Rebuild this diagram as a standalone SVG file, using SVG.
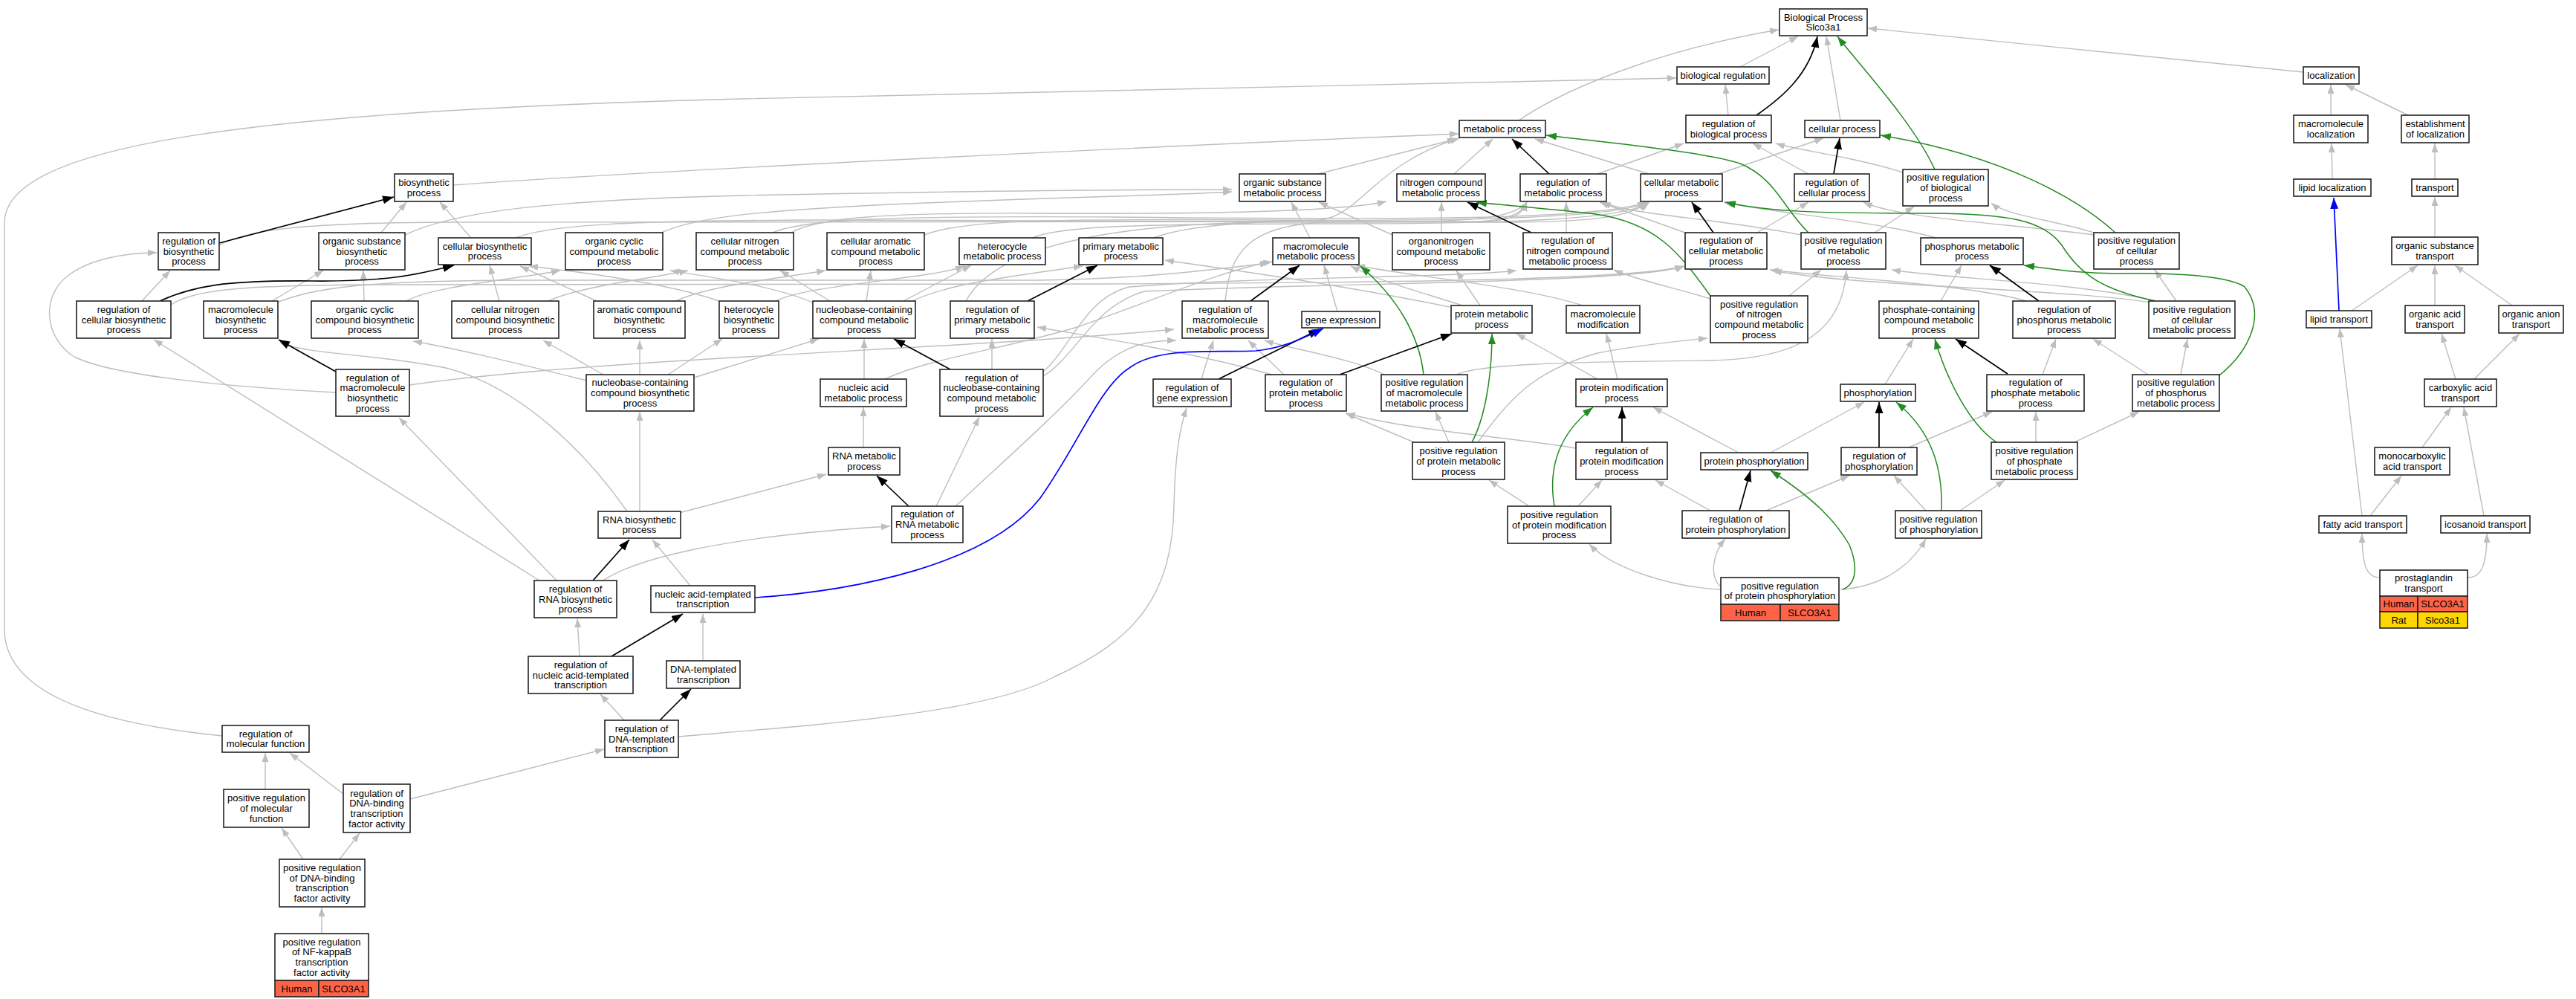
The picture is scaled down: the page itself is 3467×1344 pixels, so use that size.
<svg xmlns="http://www.w3.org/2000/svg" width="3467" height="1344" viewBox="0 0 3467 1344">
<defs>
<marker id="ag" markerUnits="userSpaceOnUse" markerWidth="14" markerHeight="10" refX="12" refY="4.5" orient="auto"><path d="M0,0 L12,4.5 L0,9 z" fill="#BEBEBE"/></marker>
<marker id="ak" markerUnits="userSpaceOnUse" markerWidth="16" markerHeight="12" refX="15" refY="5.5" orient="auto"><path d="M0,0 L15,5.5 L0,11 z" fill="#000"/></marker>
<marker id="agr" markerUnits="userSpaceOnUse" markerWidth="15" markerHeight="11" refX="14" refY="5" orient="auto"><path d="M0,0 L14,5 L0,10 z" fill="#228B22"/></marker>
<marker id="ab" markerUnits="userSpaceOnUse" markerWidth="16" markerHeight="12" refX="15" refY="5.5" orient="auto"><path d="M0,0 L15,5.5 L0,11 z" fill="#0000FF"/></marker>
</defs>
<style>
.n rect{fill:#fff;stroke:#222;stroke-width:1.6}
.n rect.hu{fill:#FF6347}
.n rect.ra{fill:#FFD700}
.n text{font-family:"Liberation Sans",Arial,sans-serif;font-size:13px;text-anchor:middle;fill:#000}
.e{fill:none;stroke:#BEBEBE;stroke-width:1.4;marker-end:url(#ag)}
.k{fill:none;stroke:#000;stroke-width:1.7;marker-end:url(#ak)}
.g{fill:none;stroke:#228B22;stroke-width:1.5;marker-end:url(#agr)}
.b{fill:none;stroke:#0000FF;stroke-width:1.7;marker-end:url(#ab)}
</style>
<rect x="0" y="0" width="3467" height="1344" fill="#fff"/>
<g id="connectors">
<path class="e" d="M2342,90 L2420,49"/>
<path class="e" d="M2044,162 C2120,110 2260,62 2394,40"/>
<path class="e" d="M2477,162 L2458,49"/>
<path class="e" d="M3100,97 L2514,38"/>
<path class="e" d="M2326,155 L2322,114"/>
<path class="e" d="M3137,155 L3137,114"/>
<path class="e" d="M3241,155 L3157,114"/>
<path class="e" d="M3139,241 L3138,193"/>
<path class="e" d="M3277,241 L3277,193"/>
<path class="e" d="M3277,319 L3277,265"/>
<path class="e" d="M3165,418 L3254,357"/>
<path class="e" d="M3277,411 L3277,357"/>
<path class="e" d="M3381,411 L3304,357"/>
<path class="e" d="M3305,510 L3286,449"/>
<path class="e" d="M3330,510 L3391,449"/>
<path class="e" d="M3260,602 L3299,548"/>
<path class="e" d="M3190,694 L3232,640"/>
<path class="e" d="M3179,694 L3149,442"/>
<path class="e" d="M3343,694 L3316,548"/>
<path class="e" d="M3203,777 C3185,777 3179,760 3179,718"/>
<path class="e" d="M3321,777 C3340,777 3347,760 3347,718"/>
<path class="e" d="M2818,316 C2700,300 2560,295 2508,272"/>
<path class="e" d="M2818,313 C2760,295 2700,290 2680,273"/>
<path class="e" d="M2150,234 L2266,193"/>
<path class="e" d="M2219,234 L2066,187"/>
<path class="e" d="M2313,234 L2454,186"/>
<path class="e" d="M1957,234 L2009,187"/>
<path class="e" d="M2434,234 L2359,193"/>
<path class="e" d="M2561,232 C2500,212 2420,202 2390,193"/>
<path class="e" d="M1774,234 L1960,187"/>
<path class="e" d="M610,249 C900,228 1600,195 1963,180"/>
<path class="e" d="M1553,320 C1590,305 1680,298 1775,296 C1830,292 1850,220 1964,186"/>
<path class="e" d="M2523,313 L2576,278"/>
<path class="e" d="M2424,316 C2300,292 2200,290 2156,272"/>
<path class="e" d="M2268,313 L2153,272"/>
<path class="e" d="M2365,313 L2434,272"/>
<path class="e" d="M2108,313 L2108,272"/>
<path class="e" d="M1940,313 L1940,272"/>
<path class="e" d="M1763,320 L1738,272"/>
<path class="e" d="M1874,316 L1775,272"/>
<path class="e" d="M1065,313 C1100,292 1200,286 1400,287 C1600,288 1800,286 1866,271"/>
<path class="e" d="M1040,313 C1080,295 1200,290 1500,292 C1900,296 2150,296 2216,272"/>
<path class="e" d="M1244,316 C1290,297 1400,294 1700,296 C2000,298 2180,292 2218,272"/>
<path class="e" d="M1390,320 C1420,306 1500,301 1800,301 C2050,301 2190,294 2220,272"/>
<path class="e" d="M694,320 C740,302 850,297 1100,296 L2000,299 C2150,300 2200,290 2216,272"/>
<path class="e" d="M890,313 C930,295 1000,284 1200,275 C1400,266 1600,262 1658,258"/>
<path class="e" d="M545,316 C600,290 700,270 1000,263 C1300,257 1550,255 1658,255"/>
<path class="e" d="M513,313 L547,272"/>
<path class="e" d="M634,320 L592,272"/>
<path class="e" d="M295,330 C330,310 400,300 600,299 L1900,298 C2000,297 2040,290 2055,272"/>
<path class="e" d="M191,405 L229,364"/>
<path class="e" d="M452,528 C300,520 150,505 100,480 C60,455 55,400 90,372 C120,348 170,340 211,340"/>
<path class="e" d="M366,405 L435,364"/>
<path class="e" d="M490,405 L489,364"/>
<path class="e" d="M547,405 C580,385 700,375 754,364"/>
<path class="e" d="M672,405 L659,357"/>
<path class="e" d="M803,405 L700,358"/>
<path class="e" d="M968,405 C900,382 800,368 712,358"/>
<path class="e" d="M738,405 C780,385 880,374 926,364"/>
<path class="e" d="M910,405 C950,385 1050,374 1111,364"/>
<path class="e" d="M1044,405 C1090,382 1250,376 1298,358"/>
<path class="e" d="M1117,405 L1050,364"/>
<path class="e" d="M1100,410 C1050,385 950,372 902,364"/>
<path class="e" d="M1166,405 L1172,364"/>
<path class="e" d="M1216,405 L1307,357"/>
<path class="e" d="M1222,408 C1270,382 1360,372 1457,358"/>
<path class="e" d="M790,512 C700,490 620,470 556,459"/>
<path class="e" d="M812,504 L731,458"/>
<path class="e" d="M861,504 L861,458"/>
<path class="e" d="M899,504 L972,456"/>
<path class="e" d="M934,508 L1102,456"/>
<path class="e" d="M861,688 L861,554"/>
<path class="e" d="M844,688 C790,610 700,520 600,495 C500,475 420,478 377,461"/>
<path class="e" d="M914,690 L1112,638"/>
<path class="e" d="M929,788 L878,726"/>
<path class="e" d="M946,889 L946,826"/>
<path class="e" d="M780,883 L777,832"/>
<path class="e" d="M840,969 L808,934"/>
<path class="e" d="M913,991 C1100,975 1330,960 1420,910 C1530,860 1578,800 1580,680 C1582,600 1590,570 1597,549"/>
<path class="e" d="M726,781 L207,457"/>
<path class="e" d="M749,781 L537,562"/>
<path class="e" d="M812,781 C850,755 960,722 1198,708"/>
<path class="e" d="M1260,681 L1318,561"/>
<path class="e" d="M1286,681 C1340,630 1420,560 1470,505 C1510,462 1550,458 1583,458"/>
<path class="e" d="M1335,497 L1335,456"/>
<path class="e" d="M1404,500 C1440,470 1460,400 1520,386 C1700,372 1950,374 2041,364"/>
<path class="e" d="M1404,506 C1448,480 1470,412 1540,392 C1800,380 2200,381 2267,358"/>
<path class="e" d="M1300,405 C1340,330 1500,302 1700,299 L2000,298 C2040,296 2050,286 2055,272"/>
<path class="e" d="M1649,405 C1655,340 1680,304 1780,299 L1990,298 C2030,296 2050,286 2055,272"/>
<path class="e" d="M551,518 C800,482 1300,470 1580,443"/>
<path class="e" d="M1617,510 L1633,458"/>
<path class="e" d="M1728,504 L1680,458"/>
<path class="e" d="M1863,504 C1820,482 1740,470 1702,458"/>
<path class="e" d="M1712,504 C1600,472 1450,450 1396,440"/>
<path class="e" d="M1163,510 L1163,456"/>
<path class="e" d="M1191,510 C1250,482 1350,470 1450,440 C1550,405 1650,362 1712,352"/>
<path class="e" d="M366,410 C420,385 500,378 700,377 L1400,377 C1550,375 1650,360 1708,354"/>
<path class="e" d="M1800,419 L1782,357"/>
<path class="e" d="M1968,411 C1920,395 1860,380 1818,358"/>
<path class="e" d="M1951,413 C1800,382 1650,362 1568,350"/>
<path class="e" d="M1992,411 L1960,364"/>
<path class="e" d="M2130,411 C2050,385 1900,372 1825,357"/>
<path class="e" d="M2150,510 L2041,449"/>
<path class="e" d="M2177,510 L2162,449"/>
<path class="e" d="M2537,517 L2575,456"/>
<path class="e" d="M2302,402 C2250,386 2200,376 2172,363"/>
<path class="e" d="M2408,398 L2451,363"/>
<path class="e" d="M2612,405 L2640,357"/>
<path class="e" d="M2727,405 C2650,382 2450,372 2382,363"/>
<path class="e" d="M2901,405 C2800,380 2620,375 2546,363"/>
<path class="e" d="M2901,408 C2780,388 2500,386 2386,364"/>
<path class="e" d="M2929,405 L2900,363"/>
<path class="e" d="M2606,320 C2520,296 2380,286 2320,272"/>
<path class="e" d="M2749,504 L2767,456"/>
<path class="e" d="M2891,504 L2817,456"/>
<path class="e" d="M2935,504 L2944,456"/>
<path class="e" d="M2569,602 L2681,554"/>
<path class="e" d="M2740,595 L2740,554"/>
<path class="e" d="M2792,595 L2879,554"/>
<path class="e" d="M2638,687 L2698,646"/>
<path class="e" d="M2592,687 L2549,640"/>
<path class="e" d="M2377,687 L2489,640"/>
<path class="e" d="M2302,687 L2228,646"/>
<path class="e" d="M2058,681 L2004,646"/>
<path class="e" d="M2124,681 L2156,646"/>
<path class="e" d="M2316,793 C2250,790 2170,765 2139,732"/>
<path class="e" d="M2316,790 C2300,775 2305,745 2322,725"/>
<path class="e" d="M2477,793 C2530,790 2572,762 2592,725"/>
<path class="e" d="M2340,609 L2225,548"/>
<path class="e" d="M2383,609 L2509,541"/>
<path class="e" d="M2120,603 C2050,590 1900,580 1812,556"/>
<path class="e" d="M1903,595 L1811,556"/>
<path class="e" d="M1950,595 L1932,554"/>
<path class="e" d="M1989,595 C2030,540 2060,500 2150,475 C2220,462 2270,458 2298,455"/>
<path class="e" d="M1960,504 C1990,490 2100,487 2300,485 C2430,483 2480,440 2485,364"/>
<path class="e" d="M299,990 C150,975 10,940 6,850 L6,300 C6,200 300,150 1000,133 C1600,118 2100,108 2256,105"/>
<path class="e" d="M357,1062 L357,1013"/>
<path class="e" d="M462,1068 L390,1013"/>
<path class="e" d="M552,1075 L813,1008"/>
<path class="e" d="M408,1156 L379,1114"/>
<path class="e" d="M457,1156 L484,1121"/>
<path class="e" d="M433,1256 L433,1221"/>
<path class="e" d="M1162,602 L1162,548"/>
<path class="e" d="M230,410 C260,390 320,384 500,383 L1500,382 C1900,380 2200,376 2266,358"/>
<path class="g" d="M2604,228 C2575,165 2505,90 2473,49"/>
<path class="g" d="M2847,313 C2800,270 2700,210 2531,182"/>
<path class="g" d="M2434,313 C2400,280 2390,240 2342,220 C2300,205 2150,190 2081,182"/>
<path class="g" d="M2302,398 C2260,340 2230,300 2147,288 C2080,280 2010,275 1987,272"/>
<path class="g" d="M2901,405 C2830,390 2800,370 2775,330 C2750,295 2700,288 2600,287 C2450,287 2380,285 2322,272"/>
<path class="g" d="M2987,505 C3030,470 3050,420 3020,385 C2990,368 2900,367 2850,368 C2790,368 2750,360 2724,357"/>
<path class="g" d="M1916,504 C1910,450 1880,400 1831,358"/>
<path class="g" d="M1981,595 C2000,560 2008,500 2008,449"/>
<path class="g" d="M2092,681 C2085,640 2090,590 2144,548"/>
<path class="g" d="M2480,793 C2500,785 2500,760 2489,733 C2470,700 2440,670 2383,633"/>
<path class="g" d="M2613,687 C2615,630 2600,580 2552,541"/>
<path class="g" d="M2687,595 C2650,570 2620,510 2604,456"/>
<path class="k" d="M295,327 L530,265"/>
<path class="k" d="M215,405 C260,385 300,377 420,378 C520,379 560,370 611,357"/>
<path class="k" d="M452,500 L375,457"/>
<path class="k" d="M798,781 L847,726"/>
<path class="k" d="M823,883 L919,826"/>
<path class="k" d="M888,969 L930,927"/>
<path class="k" d="M1223,681 L1180,640"/>
<path class="k" d="M1279,497 L1203,456"/>
<path class="k" d="M1383,405 L1477,357"/>
<path class="k" d="M1683,405 L1749,357"/>
<path class="k" d="M1640,510 L1776,443"/>
<path class="k" d="M1803,504 L1954,449"/>
<path class="k" d="M2061,313 L1975,272"/>
<path class="k" d="M2085,234 L2035,187"/>
<path class="k" d="M2306,313 L2277,272"/>
<path class="k" d="M2468,234 L2476,186"/>
<path class="k" d="M2364,155 C2400,130 2435,100 2446,49"/>
<path class="k" d="M2744,405 L2678,357"/>
<path class="k" d="M2702,503 L2632,456"/>
<path class="k" d="M2183,595 L2183,548"/>
<path class="k" d="M2529,602 L2529,541"/>
<path class="k" d="M2341,687 L2356,633"/>
<path class="b" d="M1016,804 C1150,795 1330,760 1400,670 C1450,600 1480,520 1520,495 C1560,465 1640,475 1690,472 C1730,468 1760,452 1781,442"/>
<path class="b" d="M3148,418 L3141,266"/>
</g>
<g id="n1" class="n"><rect x="2395" y="12" width="118" height="36"/><text x="2454" y="27.7">Biological Process</text><text x="2454" y="41.4">Slco3a1</text></g>
<g id="n2" class="n"><rect x="2257" y="90" width="124" height="23"/><text x="2319" y="106">biological regulation</text></g>
<g id="n3" class="n"><rect x="3100" y="90" width="75" height="23"/><text x="3137.5" y="106">localization</text></g>
<g id="n4" class="n"><rect x="1964" y="162" width="116" height="23"/><text x="2022" y="178">metabolic process</text></g>
<g id="n5" class="n"><rect x="2269" y="155" width="115" height="37"/><text x="2326.5" y="171.2">regulation of</text><text x="2326.5" y="184.9">biological process</text></g>
<g id="n6" class="n"><rect x="2429" y="162" width="101" height="23"/><text x="2479.5" y="178">cellular process</text></g>
<g id="n7" class="n"><rect x="3087" y="155" width="100" height="37"/><text x="3137" y="171.2">macromolecule</text><text x="3137" y="184.9">localization</text></g>
<g id="n8" class="n"><rect x="3232" y="155" width="91" height="37"/><text x="3277.5" y="171.2">establishment</text><text x="3277.5" y="184.9">of localization</text></g>
<g id="n9" class="n"><rect x="531" y="234" width="79" height="37"/><text x="570.5" y="250.2">biosynthetic</text><text x="570.5" y="263.9">process</text></g>
<g id="n10" class="n"><rect x="1668" y="234" width="116" height="37"/><text x="1726" y="250.2">organic substance</text><text x="1726" y="263.9">metabolic process</text></g>
<g id="n11" class="n"><rect x="1880" y="234" width="119" height="37"/><text x="1939.5" y="250.2">nitrogen compound</text><text x="1939.5" y="263.9">metabolic process</text></g>
<g id="n12" class="n"><rect x="2046" y="234" width="116" height="37"/><text x="2104" y="250.2">regulation of</text><text x="2104" y="263.9">metabolic process</text></g>
<g id="n13" class="n"><rect x="2208" y="234" width="110" height="37"/><text x="2263" y="250.2">cellular metabolic</text><text x="2263" y="263.9">process</text></g>
<g id="n14" class="n"><rect x="2415" y="234" width="101" height="37"/><text x="2465.5" y="250.2">regulation of</text><text x="2465.5" y="263.9">cellular process</text></g>
<g id="n15" class="n"><rect x="2561" y="228" width="115" height="49"/><text x="2618.5" y="243.3">positive regulation</text><text x="2618.5" y="257">of biological</text><text x="2618.5" y="270.7">process</text></g>
<g id="n16" class="n"><rect x="3087" y="241" width="104" height="23"/><text x="3139" y="257">lipid localization</text></g>
<g id="n17" class="n"><rect x="3246" y="241" width="62" height="23"/><text x="3277" y="257">transport</text></g>
<g id="n18" class="n"><rect x="213" y="313" width="82" height="50"/><text x="254" y="328.8">regulation of</text><text x="254" y="342.5">biosynthetic</text><text x="254" y="356.2">process</text></g>
<g id="n19" class="n"><rect x="429" y="313" width="116" height="50"/><text x="487" y="328.8">organic substance</text><text x="487" y="342.5">biosynthetic</text><text x="487" y="356.2">process</text></g>
<g id="n20" class="n"><rect x="590" y="320" width="125" height="36"/><text x="652.5" y="335.7">cellular biosynthetic</text><text x="652.5" y="349.4">process</text></g>
<g id="n21" class="n"><rect x="761" y="313" width="131" height="50"/><text x="826.5" y="328.8">organic cyclic</text><text x="826.5" y="342.5">compound metabolic</text><text x="826.5" y="356.2">process</text></g>
<g id="n22" class="n"><rect x="937" y="313" width="131" height="50"/><text x="1002.5" y="328.8">cellular nitrogen</text><text x="1002.5" y="342.5">compound metabolic</text><text x="1002.5" y="356.2">process</text></g>
<g id="n23" class="n"><rect x="1113" y="313" width="131" height="50"/><text x="1178.5" y="328.8">cellular aromatic</text><text x="1178.5" y="342.5">compound metabolic</text><text x="1178.5" y="356.2">process</text></g>
<g id="n24" class="n"><rect x="1291" y="320" width="116" height="36"/><text x="1349" y="335.7">heterocycle</text><text x="1349" y="349.4">metabolic process</text></g>
<g id="n25" class="n"><rect x="1452" y="320" width="113" height="36"/><text x="1508.5" y="335.7">primary metabolic</text><text x="1508.5" y="349.4">process</text></g>
<g id="n26" class="n"><rect x="1713" y="320" width="116" height="36"/><text x="1771" y="335.7">macromolecule</text><text x="1771" y="349.4">metabolic process</text></g>
<g id="n27" class="n"><rect x="1874" y="313" width="131" height="50"/><text x="1939.5" y="328.8">organonitrogen</text><text x="1939.5" y="342.5">compound metabolic</text><text x="1939.5" y="356.2">process</text></g>
<g id="n28" class="n"><rect x="2050" y="313" width="120" height="49"/><text x="2110" y="328.3">regulation of</text><text x="2110" y="342">nitrogen compound</text><text x="2110" y="355.7">metabolic process</text></g>
<g id="n29" class="n"><rect x="2268" y="313" width="110" height="49"/><text x="2323" y="328.3">regulation of</text><text x="2323" y="342">cellular metabolic</text><text x="2323" y="355.7">process</text></g>
<g id="n30" class="n"><rect x="2424" y="313" width="114" height="49"/><text x="2481" y="328.3">positive regulation</text><text x="2481" y="342">of metabolic</text><text x="2481" y="355.7">process</text></g>
<g id="n31" class="n"><rect x="2585" y="320" width="138" height="36"/><text x="2654" y="335.7">phosphorus metabolic</text><text x="2654" y="349.4">process</text></g>
<g id="n32" class="n"><rect x="2818" y="313" width="115" height="49"/><text x="2875.5" y="328.3">positive regulation</text><text x="2875.5" y="342">of cellular</text><text x="2875.5" y="355.7">process</text></g>
<g id="n33" class="n"><rect x="3219" y="319" width="116" height="37"/><text x="3277" y="335.2">organic substance</text><text x="3277" y="348.9">transport</text></g>
<g id="n34" class="n"><rect x="103" y="405" width="127" height="50"/><text x="166.5" y="420.8">regulation of</text><text x="166.5" y="434.5">cellular biosynthetic</text><text x="166.5" y="448.2">process</text></g>
<g id="n35" class="n"><rect x="274" y="405" width="100" height="50"/><text x="324" y="420.8">macromolecule</text><text x="324" y="434.5">biosynthetic</text><text x="324" y="448.2">process</text></g>
<g id="n36" class="n"><rect x="419" y="405" width="144" height="50"/><text x="491" y="420.8">organic cyclic</text><text x="491" y="434.5">compound biosynthetic</text><text x="491" y="448.2">process</text></g>
<g id="n37" class="n"><rect x="608" y="405" width="144" height="50"/><text x="680" y="420.8">cellular nitrogen</text><text x="680" y="434.5">compound biosynthetic</text><text x="680" y="448.2">process</text></g>
<g id="n38" class="n"><rect x="799" y="405" width="123" height="50"/><text x="860.5" y="420.8">aromatic compound</text><text x="860.5" y="434.5">biosynthetic</text><text x="860.5" y="448.2">process</text></g>
<g id="n39" class="n"><rect x="968" y="405" width="80" height="50"/><text x="1008" y="420.8">heterocycle</text><text x="1008" y="434.5">biosynthetic</text><text x="1008" y="448.2">process</text></g>
<g id="n40" class="n"><rect x="1094" y="405" width="138" height="50"/><text x="1163" y="420.8">nucleobase-containing</text><text x="1163" y="434.5">compound metabolic</text><text x="1163" y="448.2">process</text></g>
<g id="n41" class="n"><rect x="1279" y="405" width="113" height="50"/><text x="1335.5" y="420.8">regulation of</text><text x="1335.5" y="434.5">primary metabolic</text><text x="1335.5" y="448.2">process</text></g>
<g id="n42" class="n"><rect x="1591" y="405" width="116" height="50"/><text x="1649" y="420.8">regulation of</text><text x="1649" y="434.5">macromolecule</text><text x="1649" y="448.2">metabolic process</text></g>
<g id="n43" class="n"><rect x="1752" y="419" width="105" height="22"/><text x="1804.5" y="434.5">gene expression</text></g>
<g id="n44" class="n"><rect x="1953" y="411" width="109" height="37"/><text x="2007.5" y="427.2">protein metabolic</text><text x="2007.5" y="440.9">process</text></g>
<g id="n45" class="n"><rect x="2108" y="411" width="99" height="37"/><text x="2157.5" y="427.2">macromolecule</text><text x="2157.5" y="440.9">modification</text></g>
<g id="n46" class="n"><rect x="2302" y="398" width="131" height="63"/><text x="2367.5" y="413.5">positive regulation</text><text x="2367.5" y="427.2">of nitrogen</text><text x="2367.5" y="440.9">compound metabolic</text><text x="2367.5" y="454.6">process</text></g>
<g id="n47" class="n"><rect x="2529" y="405" width="134" height="50"/><text x="2596" y="420.8">phosphate-containing</text><text x="2596" y="434.5">compound metabolic</text><text x="2596" y="448.2">process</text></g>
<g id="n48" class="n"><rect x="2709" y="405" width="138" height="50"/><text x="2778" y="420.8">regulation of</text><text x="2778" y="434.5">phosphorus metabolic</text><text x="2778" y="448.2">process</text></g>
<g id="n49" class="n"><rect x="2892" y="405" width="116" height="50"/><text x="2950" y="420.8">positive regulation</text><text x="2950" y="434.5">of cellular</text><text x="2950" y="448.2">metabolic process</text></g>
<g id="n50" class="n"><rect x="3104" y="418" width="88" height="23"/><text x="3148" y="434">lipid transport</text></g>
<g id="n51" class="n"><rect x="3237" y="411" width="80" height="37"/><text x="3277" y="427.2">organic acid</text><text x="3277" y="440.9">transport</text></g>
<g id="n52" class="n"><rect x="3363" y="411" width="87" height="37"/><text x="3406.5" y="427.2">organic anion</text><text x="3406.5" y="440.9">transport</text></g>
<g id="n53" class="n"><rect x="452" y="497" width="99" height="63"/><text x="501.5" y="512.5">regulation of</text><text x="501.5" y="526.2">macromolecule</text><text x="501.5" y="539.9">biosynthetic</text><text x="501.5" y="553.6">process</text></g>
<g id="n54" class="n"><rect x="789" y="504" width="145" height="49"/><text x="861.5" y="519.3">nucleobase-containing</text><text x="861.5" y="533">compound biosynthetic</text><text x="861.5" y="546.7">process</text></g>
<g id="n55" class="n"><rect x="1104" y="510" width="116" height="37"/><text x="1162" y="526.2">nucleic acid</text><text x="1162" y="539.9">metabolic process</text></g>
<g id="n56" class="n"><rect x="1265" y="497" width="139" height="63"/><text x="1334.5" y="512.5">regulation of</text><text x="1334.5" y="526.2">nucleobase-containing</text><text x="1334.5" y="539.9">compound metabolic</text><text x="1334.5" y="553.6">process</text></g>
<g id="n57" class="n"><rect x="1552" y="510" width="105" height="37"/><text x="1604.5" y="526.2">regulation of</text><text x="1604.5" y="539.9">gene expression</text></g>
<g id="n58" class="n"><rect x="1703" y="504" width="109" height="49"/><text x="1757.5" y="519.3">regulation of</text><text x="1757.5" y="533">protein metabolic</text><text x="1757.5" y="546.7">process</text></g>
<g id="n59" class="n"><rect x="1859" y="504" width="116" height="49"/><text x="1917" y="519.3">positive regulation</text><text x="1917" y="533">of macromolecule</text><text x="1917" y="546.7">metabolic process</text></g>
<g id="n60" class="n"><rect x="2121" y="510" width="123" height="37"/><text x="2182.5" y="526.2">protein modification</text><text x="2182.5" y="539.9">process</text></g>
<g id="n61" class="n"><rect x="2477" y="517" width="101" height="23"/><text x="2527.5" y="533">phosphorylation</text></g>
<g id="n62" class="n"><rect x="2674" y="504" width="131" height="49"/><text x="2739.5" y="519.3">regulation of</text><text x="2739.5" y="533">phosphate metabolic</text><text x="2739.5" y="546.7">process</text></g>
<g id="n63" class="n"><rect x="2870" y="504" width="117" height="49"/><text x="2928.5" y="519.3">positive regulation</text><text x="2928.5" y="533">of phosphorus</text><text x="2928.5" y="546.7">metabolic process</text></g>
<g id="n64" class="n"><rect x="3263" y="510" width="97" height="37"/><text x="3311.5" y="526.2">carboxylic acid</text><text x="3311.5" y="539.9">transport</text></g>
<g id="n65" class="n"><rect x="1115" y="602" width="96" height="37"/><text x="1163" y="618.2">RNA metabolic</text><text x="1163" y="631.9">process</text></g>
<g id="n66" class="n"><rect x="1901" y="595" width="124" height="50"/><text x="1963" y="611.3">positive regulation</text><text x="1963" y="625">of protein metabolic</text><text x="1963" y="638.7">process</text></g>
<g id="n67" class="n"><rect x="2121" y="595" width="123" height="50"/><text x="2182.5" y="611.3">regulation of</text><text x="2182.5" y="625">protein modification</text><text x="2182.5" y="638.7">process</text></g>
<g id="n68" class="n"><rect x="2289" y="609" width="144" height="23"/><text x="2361" y="625">protein phosphorylation</text></g>
<g id="n69" class="n"><rect x="2478" y="602" width="102" height="37"/><text x="2529" y="618.2">regulation of</text><text x="2529" y="631.9">phosphorylation</text></g>
<g id="n70" class="n"><rect x="2680" y="595" width="116" height="50"/><text x="2738" y="611.3">positive regulation</text><text x="2738" y="625">of phosphate</text><text x="2738" y="638.7">metabolic process</text></g>
<g id="n71" class="n"><rect x="3196" y="602" width="101" height="37"/><text x="3246.5" y="618.2">monocarboxylic</text><text x="3246.5" y="631.9">acid transport</text></g>
<g id="n72" class="n"><rect x="805" y="688" width="111" height="36"/><text x="860.5" y="703.7">RNA biosynthetic</text><text x="860.5" y="717.4">process</text></g>
<g id="n73" class="n"><rect x="1200" y="681" width="96" height="49"/><text x="1248" y="696.3">regulation of</text><text x="1248" y="710">RNA metabolic</text><text x="1248" y="723.7">process</text></g>
<g id="n74" class="n"><rect x="2029" y="681" width="139" height="50"/><text x="2098.5" y="696.8">positive regulation</text><text x="2098.5" y="710.5">of protein modification</text><text x="2098.5" y="724.2">process</text></g>
<g id="n75" class="n"><rect x="2264" y="687" width="144" height="37"/><text x="2336" y="703.2">regulation of</text><text x="2336" y="716.9">protein phosphorylation</text></g>
<g id="n76" class="n"><rect x="2551" y="687" width="116" height="37"/><text x="2609" y="703.2">positive regulation</text><text x="2609" y="716.9">of phosphorylation</text></g>
<g id="n77" class="n"><rect x="3121" y="694" width="118" height="23"/><text x="3180" y="710">fatty acid transport</text></g>
<g id="n78" class="n"><rect x="3285" y="694" width="120" height="23"/><text x="3345" y="710">icosanoid transport</text></g>
<g id="n79" class="n"><rect x="719" y="781" width="111" height="50"/><text x="774.5" y="796.8">regulation of</text><text x="774.5" y="810.5">RNA biosynthetic</text><text x="774.5" y="824.2">process</text></g>
<g id="n80" class="n"><rect x="876" y="788" width="140" height="36"/><text x="946" y="803.7">nucleic acid-templated</text><text x="946" y="817.4">transcription</text></g>
<g id="n81" class="n"><rect x="2316" y="777" width="159" height="36"/><rect class="hu" x="2316" y="813" width="80" height="22"/><rect class="hu" x="2396" y="813" width="79" height="22"/><text x="2395.5" y="792.7">positive regulation</text><text x="2395.5" y="806.4">of protein phosphorylation</text><text x="2356" y="828.5">Human</text><text x="2435.5" y="828.5">SLCO3A1</text></g>
<g id="n82" class="n"><rect x="3203" y="767" width="118" height="35"/><rect class="hu" x="3203" y="802" width="51" height="21"/><rect class="hu" x="3254" y="802" width="67" height="21"/><rect class="ra" x="3203" y="823" width="51" height="22"/><rect class="ra" x="3254" y="823" width="67" height="22"/><text x="3262" y="782.2">prostaglandin</text><text x="3262" y="795.9">transport</text><text x="3228.5" y="817">Human</text><text x="3287.5" y="817">SLCO3A1</text><text x="3228.5" y="838.5">Rat</text><text x="3287.5" y="838.5">Slco3a1</text></g>
<g id="n83" class="n"><rect x="711" y="883" width="141" height="50"/><text x="781.5" y="898.8">regulation of</text><text x="781.5" y="912.5">nucleic acid-templated</text><text x="781.5" y="926.2">transcription</text></g>
<g id="n84" class="n"><rect x="897" y="889" width="99" height="37"/><text x="946.5" y="905.2">DNA-templated</text><text x="946.5" y="918.9">transcription</text></g>
<g id="n85" class="n"><rect x="814" y="969" width="99" height="50"/><text x="863.5" y="984.8">regulation of</text><text x="863.5" y="998.5">DNA-templated</text><text x="863.5" y="1012.2">transcription</text></g>
<g id="n86" class="n"><rect x="299" y="976" width="117" height="36"/><text x="357.5" y="991.7">regulation of</text><text x="357.5" y="1005.4">molecular function</text></g>
<g id="n87" class="n"><rect x="301" y="1062" width="115" height="51"/><text x="358.5" y="1078.3">positive regulation</text><text x="358.5" y="1092">of molecular</text><text x="358.5" y="1105.7">function</text></g>
<g id="n88" class="n"><rect x="462" y="1055" width="90" height="65"/><text x="507" y="1071.5">regulation of</text><text x="507" y="1085.2">DNA-binding</text><text x="507" y="1098.9">transcription</text><text x="507" y="1112.6">factor activity</text></g>
<g id="n89" class="n"><rect x="376" y="1156" width="115" height="64"/><text x="433.5" y="1172">positive regulation</text><text x="433.5" y="1185.7">of DNA-binding</text><text x="433.5" y="1199.4">transcription</text><text x="433.5" y="1213.1">factor activity</text></g>
<g id="n90" class="n"><rect x="370" y="1256" width="126" height="63"/><rect class="hu" x="370" y="1319" width="59" height="22"/><rect class="hu" x="429" y="1319" width="67" height="22"/><text x="433" y="1271.5">positive regulation</text><text x="433" y="1285.2">of NF-kappaB</text><text x="433" y="1298.9">transcription</text><text x="433" y="1312.6">factor activity</text><text x="399.5" y="1334.5">Human</text><text x="462.5" y="1334.5">SLCO3A1</text></g>
</svg>
